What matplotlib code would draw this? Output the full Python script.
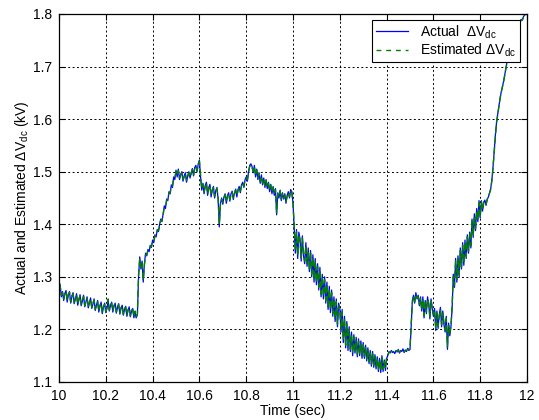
import numpy as np
import matplotlib
matplotlib.use("Agg")
import matplotlib.pyplot as plt

plt.rcParams['font.family'] = ['Liberation Sans', 'DejaVu Sans']
plt.rcParams['mathtext.fontset'] = 'custom'
plt.rcParams['mathtext.rm'] = 'Liberation Sans'
plt.rcParams['mathtext.it'] = 'Liberation Sans:italic'

t_start, t_end = 10.0, 12.0

actual = [
    1.290, 1.285, 1.262, 1.272, 1.255, 1.268, 1.274, 1.252, 1.266, 1.272,
    1.250, 1.262, 1.270, 1.249, 1.258, 1.268, 1.246, 1.256, 1.266, 1.245,
    1.254, 1.265, 1.243, 1.252, 1.262, 1.241, 1.250, 1.260, 1.240, 1.248,
    1.258, 1.236, 1.246, 1.255, 1.233, 1.244, 1.252, 1.230, 1.242, 1.250,
    1.232, 1.240, 1.255, 1.235, 1.245, 1.252, 1.233, 1.244, 1.250, 1.231,
    1.242, 1.249, 1.229, 1.240, 1.246, 1.227, 1.238, 1.244, 1.225, 1.236,
    1.243, 1.224, 1.235, 1.240, 1.222, 1.233, 1.222, 1.228, 1.300, 1.338,
    1.315, 1.330, 1.290, 1.325, 1.345, 1.340, 1.352, 1.348, 1.360, 1.356,
    1.370, 1.365, 1.380, 1.376, 1.390, 1.386, 1.400, 1.410, 1.405, 1.420,
    1.435, 1.430, 1.448, 1.445, 1.462, 1.458, 1.475, 1.470, 1.490, 1.485,
    1.503, 1.490, 1.505, 1.485, 1.495, 1.500, 1.482, 1.492, 1.498, 1.480,
    1.492, 1.500, 1.488, 1.498, 1.506, 1.492, 1.508, 1.512, 1.500, 1.515,
    1.522, 1.490, 1.465, 1.478, 1.458, 1.474, 1.480, 1.455, 1.470, 1.476,
    1.452, 1.466, 1.472, 1.450, 1.464, 1.470, 1.448, 1.395, 1.440, 1.450,
    1.438, 1.452, 1.458, 1.440, 1.455, 1.460, 1.444, 1.458, 1.463, 1.447,
    1.460, 1.467, 1.452, 1.466, 1.472, 1.460, 1.475, 1.480, 1.470, 1.485,
    1.490, 1.482, 1.500, 1.512, 1.515, 1.510, 1.498, 1.512, 1.490, 1.505,
    1.485, 1.498, 1.478, 1.494, 1.475, 1.488, 1.470, 1.485, 1.468, 1.480,
    1.462, 1.476, 1.458, 1.472, 1.455, 1.468, 1.418, 1.460, 1.450, 1.465,
    1.445, 1.460, 1.448, 1.458, 1.440, 1.455, 1.462, 1.450, 1.466, 1.462,
    1.440, 1.395, 1.345, 1.390, 1.335, 1.385, 1.372, 1.330, 1.378, 1.340,
    1.325, 1.365, 1.320, 1.355, 1.310, 1.350, 1.300, 1.342, 1.290, 1.335,
    1.285, 1.325, 1.275, 1.318, 1.262, 1.305, 1.258, 1.300, 1.250, 1.290,
    1.238, 1.282, 1.232, 1.275, 1.225, 1.262, 1.215, 1.258, 1.205, 1.250,
    1.240, 1.195, 1.238, 1.175, 1.225, 1.165, 1.215, 1.160, 1.205, 1.158,
    1.195, 1.150, 1.190, 1.155, 1.185, 1.148, 1.182, 1.150, 1.178, 1.145,
    1.175, 1.145, 1.170, 1.140, 1.165, 1.135, 1.160, 1.130, 1.158, 1.128,
    1.152, 1.125, 1.148, 1.120, 1.145, 1.118, 1.150, 1.120, 1.142, 1.122,
    1.145, 1.150, 1.158, 1.155, 1.160, 1.156, 1.158, 1.154, 1.160, 1.157,
    1.162, 1.155, 1.160, 1.158, 1.163, 1.156, 1.161, 1.158, 1.164, 1.160,
    1.162, 1.205, 1.255, 1.265, 1.250, 1.270, 1.258, 1.265, 1.245, 1.262,
    1.235, 1.262, 1.222, 1.255, 1.230, 1.262, 1.248, 1.220, 1.258, 1.240,
    1.225, 1.240, 1.198, 1.235, 1.202, 1.228, 1.242, 1.205, 1.235, 1.210,
    1.195, 1.225, 1.162, 1.212, 1.188, 1.205, 1.240, 1.305, 1.280, 1.335,
    1.290, 1.340, 1.300, 1.355, 1.315, 1.365, 1.322, 1.370, 1.335, 1.380,
    1.345, 1.385, 1.355, 1.410, 1.375, 1.420, 1.388, 1.430, 1.405, 1.445,
    1.412, 1.445, 1.425, 1.442, 1.446, 1.436, 1.448, 1.452, 1.460, 1.468,
    1.485, 1.510, 1.540, 1.570, 1.595, 1.610, 1.625, 1.640, 1.652, 1.662,
    1.672, 1.685, 1.698, 1.710, 1.722, 1.735, 1.745, 1.752, 1.760, 1.768,
    1.772, 1.776, 1.780, 1.778, 1.784, 1.790, 1.788, 1.795, 1.798, 1.800,
    1.800,
]

estimated = [
    1.288, 1.282, 1.265, 1.270, 1.258, 1.270, 1.272, 1.255, 1.268, 1.270,
    1.252, 1.264, 1.268, 1.251, 1.260, 1.266, 1.248, 1.258, 1.264, 1.247,
    1.256, 1.263, 1.245, 1.254, 1.260, 1.243, 1.252, 1.258, 1.242, 1.250,
    1.256, 1.238, 1.248, 1.253, 1.235, 1.246, 1.250, 1.232, 1.244, 1.248,
    1.234, 1.242, 1.258, 1.237, 1.247, 1.250, 1.235, 1.246, 1.248, 1.233,
    1.244, 1.247, 1.231, 1.242, 1.244, 1.229, 1.240, 1.242, 1.227, 1.238,
    1.241, 1.226, 1.237, 1.238, 1.224, 1.235, 1.224, 1.230, 1.305, 1.334,
    1.318, 1.328, 1.294, 1.322, 1.342, 1.342, 1.350, 1.350, 1.358, 1.358,
    1.368, 1.367, 1.378, 1.378, 1.388, 1.388, 1.398, 1.408, 1.407, 1.418,
    1.432, 1.433, 1.445, 1.448, 1.460, 1.460, 1.472, 1.473, 1.487, 1.488,
    1.500, 1.493, 1.502, 1.488, 1.493, 1.498, 1.485, 1.490, 1.496, 1.483,
    1.490, 1.498, 1.490, 1.496, 1.504, 1.494, 1.506, 1.510, 1.502, 1.513,
    1.520, 1.494, 1.468, 1.476, 1.461, 1.472, 1.478, 1.458, 1.468, 1.474,
    1.455, 1.464, 1.470, 1.453, 1.462, 1.468, 1.450, 1.400, 1.438, 1.448,
    1.441, 1.450, 1.456, 1.443, 1.453, 1.458, 1.447, 1.456, 1.461, 1.450,
    1.458, 1.465, 1.455, 1.464, 1.470, 1.463, 1.473, 1.478, 1.472, 1.483,
    1.488, 1.485, 1.498, 1.510, 1.513, 1.508, 1.500, 1.510, 1.493, 1.503,
    1.488, 1.496, 1.481, 1.492, 1.478, 1.486, 1.473, 1.483, 1.471, 1.478,
    1.465, 1.474, 1.461, 1.470, 1.458, 1.466, 1.422, 1.458, 1.452, 1.463,
    1.448, 1.458, 1.450, 1.456, 1.443, 1.453, 1.460, 1.452, 1.464, 1.460,
    1.438, 1.400, 1.350, 1.386, 1.340, 1.380, 1.368, 1.336, 1.374, 1.345,
    1.330, 1.360, 1.325, 1.350, 1.315, 1.345, 1.305, 1.337, 1.295, 1.330,
    1.290, 1.320, 1.280, 1.313, 1.267, 1.300, 1.263, 1.295, 1.255, 1.285,
    1.243, 1.277, 1.237, 1.270, 1.230, 1.257, 1.220, 1.253, 1.210, 1.245,
    1.236, 1.200, 1.233, 1.180, 1.220, 1.170, 1.210, 1.165, 1.200, 1.162,
    1.190, 1.155, 1.186, 1.159, 1.180, 1.152, 1.178, 1.154, 1.174, 1.149,
    1.171, 1.149, 1.166, 1.144, 1.161, 1.139, 1.156, 1.134, 1.154, 1.132,
    1.149, 1.129, 1.145, 1.124, 1.142, 1.122, 1.146, 1.124, 1.139, 1.126,
    1.147, 1.152, 1.156, 1.157, 1.158, 1.158, 1.156, 1.156, 1.158, 1.159,
    1.160, 1.157, 1.158, 1.160, 1.161, 1.158, 1.159, 1.160, 1.162, 1.162,
    1.165, 1.210, 1.250, 1.262, 1.253, 1.267, 1.260, 1.262, 1.248, 1.259,
    1.238, 1.258, 1.226, 1.251, 1.233, 1.258, 1.250, 1.224, 1.254, 1.242,
    1.228, 1.237, 1.202, 1.231, 1.206, 1.225, 1.238, 1.209, 1.231, 1.213,
    1.199, 1.221, 1.167, 1.208, 1.191, 1.208, 1.245, 1.300, 1.284, 1.330,
    1.294, 1.336, 1.304, 1.350, 1.319, 1.360, 1.326, 1.366, 1.339, 1.376,
    1.349, 1.381, 1.359, 1.406, 1.379, 1.416, 1.392, 1.426, 1.409, 1.441,
    1.415, 1.443, 1.427, 1.441, 1.444, 1.438, 1.447, 1.451, 1.459, 1.467,
    1.483, 1.508, 1.538, 1.568, 1.593, 1.609, 1.624, 1.639, 1.651, 1.661,
    1.671, 1.684, 1.697, 1.709, 1.721, 1.734, 1.744, 1.751, 1.759, 1.767,
    1.771, 1.775, 1.779, 1.779, 1.783, 1.789, 1.789, 1.794, 1.797, 1.799,
    1.800,
]

x_ticks = [10, 10.2, 10.4, 10.6, 10.8, 11, 11.2, 11.4, 11.6, 11.8, 12]
x_tick_labels = ["10", "10.2", "10.4", "10.6", "10.8", "11", "11.2", "11.4", "11.6", "11.8", "12"]
y_ticks = [1.1, 1.2, 1.3, 1.4, 1.5, 1.6, 1.7, 1.8]
y_tick_labels = ["1.1", "1.2", "1.3", "1.4", "1.5", "1.6", "1.7", "1.8"]

time = np.linspace(t_start, t_end, len(actual))

fig = plt.figure(figsize=(5.39, 4.2), dpi=100)
ax = fig.add_axes([59/539, 38/420, (527-59)/539, (382-14)/420])

ax.plot(time, actual, color='#0000ff', lw=0.9, label='Actual  $\\Delta$V$_{\\rm dc}$')
ax.plot(time, estimated, color='#008000', lw=1.0, linestyle=(0, (5, 2.5)),
        label='Estimated $\\Delta$V$_{\\rm dc}$')

ax.set_xlim(10, 12)
ax.set_ylim(1.1, 1.8)
ax.set_xticks(x_ticks)
ax.set_xticklabels(x_tick_labels)
ax.set_yticks(y_ticks)
ax.set_yticklabels(y_tick_labels)
ax.tick_params(direction='in', top=True, right=True, labelsize=10, length=4,
               width=0.8, pad=5)
ax.grid(True, color='black', linestyle=(0, (2, 2.5)), linewidth=0.7)
for s in ax.spines.values():
    s.set_linewidth(0.9)
    s.set_color('black')

ax.set_xlabel('Time (sec)', fontsize=10, labelpad=1)
ax.set_ylabel('Actual and Estimated $\\Delta$V$_{\\rm dc}$ (kV)', fontsize=10, labelpad=1)

leg = ax.legend(loc='upper right', bbox_to_anchor=(0.985, 0.984), borderaxespad=0,
                fontsize=10, frameon=True, fancybox=False,
                handlelength=2.3, borderpad=0.25,
                labelspacing=0.05, handletextpad=0.9)
leg.get_frame().set_edgecolor('black')
leg.get_frame().set_linewidth(0.8)
leg.get_frame().set_alpha(1)
leg.get_lines()[1].set_linestyle((0, (3.5, 3.5)))

fig.savefig('out.png', dpi=100)
